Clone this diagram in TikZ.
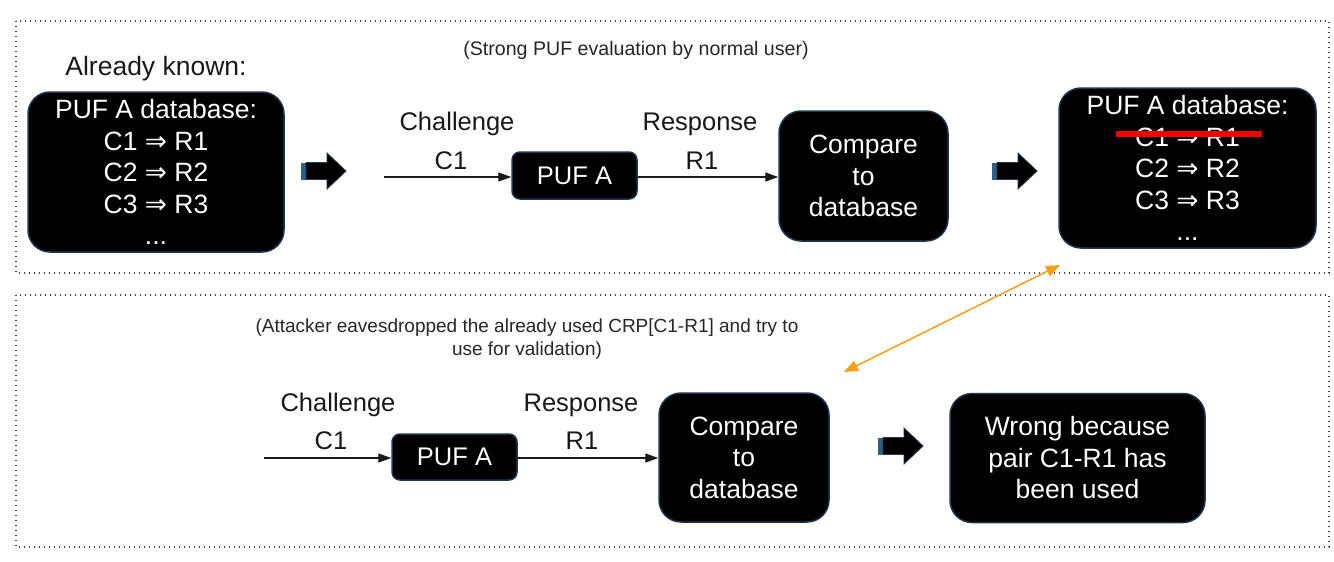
\documentclass[tikz,border=0pt]{standalone}
\usepackage{fontspec}
\setmainfont{Liberation Sans}
\newfontfamily\arrowfont{DejaVu Sans}
\usetikzlibrary{arrows.meta}
\definecolor{navy}{RGB}{31,56,80}
\definecolor{stripe}{RGB}{45,95,135}
\definecolor{orng}{RGB}{247,158,27}
\definecolor{strike}{RGB}{240,0,0}
\newcommand{\imp}{{\arrowfont ⇒}}
\tikzset{
  bigbox/.style={draw=navy, line width=1.5, fill=black, rounded corners=22,
    text=white, align=center, font=\fontsize{26.5}{31.5}\selectfont, inner sep=0},
  pufbox/.style={draw=navy, line width=1.5, fill=black, rounded corners=8,
    text=white, align=center, font=\fontsize{25.5}{30}\selectfont, inner sep=0},
  lbl/.style={font=\fontsize{25.5}{30}\selectfont, text=black!90, inner sep=0},
  note/.style={font=\fontsize{19}{23.5}\selectfont, text=black!85, align=center, inner sep=0},
  frame/.style={draw=black!75, line width=1.3, dash pattern=on 1.3 off 3.7},
  flow/.style={-{Triangle[length=13,width=9]}, line width=1.3, draw=black!90},
  fatarr/.pic={
    \fill[stripe] (0,-8.5) rectangle (6,8.5);
    \filldraw[fill=black, draw=navy, line width=0.8]
      (5,-8.5) -- (26,-8.5) -- (26,-18) -- (45,0) -- (26,18) -- (26,8.5) -- (5,8.5) -- cycle;
  }
}
\begin{document}
\begin{tikzpicture}[x=1pt,y=-1pt]
\useasboundingbox[fill=white] (0,0) rectangle (1334,562);

% frames
\draw[frame] (16,21) rectangle (1329,273);
\draw[frame] (16,295) rectangle (1329,547);

% ---------- top row ----------
\node[note, font=\fontsize{19.6}{23.5}\selectfont] (hdr1) at (636,50) {(Strong PUF evaluation by normal user)};
\node[lbl, font=\fontsize{26.5}{30}\selectfont] (known) at (156,69) {Already known:};

\node[bigbox, minimum width=256, minimum height=160] (db1) at (156,172)
  {PUF A database:\\ C1 \imp{} R1\\ C2 \imp{} R2\\ C3 \imp{} R3\\ ...};

\pic at (301,171) {fatarr};

\coordinate (cin1) at (384,177);
\node[pufbox, minimum width=125, minimum height=47] (puf1) at (574.5,175.5) {PUF A};
\node[bigbox, minimum width=169, minimum height=130] (cmp1) at (863.5,176)
  {Compare\\ to\\ database};
\draw[flow] (cin1) -- (cin1 -| puf1.west);
\draw[flow] (puf1.east |- cin1) -- (cmp1.west |- cin1);
\node[lbl] (ch1) at (457,124) {Challenge};
\node[lbl] (c1a) at (451,161) {C1};
\node[lbl] (rs1) at (700,124) {Response};
\node[lbl] (r1a) at (702,161) {R1};

\pic at (992,171) {fatarr};

\node[bigbox, minimum width=257, minimum height=160] (db2) at (1187.5,168)
  {PUF A database:\\ C1 \imp{} R1\\ C2 \imp{} R2\\ C3 \imp{} R3\\ ...};
\draw[strike, line width=6] (1116,134) -- (1262,134);

% ---------- bottom row ----------
\node[note] (hdr2) at (527,339)
  {(Attacker eavesdropped the already used CRP[C1-R1] and try to\\ use for validation)};

\coordinate (cin2) at (264,458);
\node[pufbox, minimum width=125, minimum height=46] (puf2) at (454.5,457) {PUF A};
\node[bigbox, minimum width=170, minimum height=129] (cmp2) at (744,457.5)
  {Compare\\ to\\ database};
\draw[flow] (cin2) -- (cin2 -| puf2.west);
\draw[flow] (puf2.east |- cin2) -- (cmp2.west |- cin2);
\node[lbl] (ch2) at (338,405) {Challenge};
\node[lbl] (c1b) at (331,441) {C1};
\node[lbl] (rs2) at (581,405) {Response};
\node[lbl] (r1b) at (582,441) {R1};

\pic at (878,446) {fatarr};

\node[bigbox, minimum width=255, minimum height=129] (wrong) at (1077.5,458)
  {Wrong because\\ pair C1-R1 has\\ been used};

% orange link
\coordinate (oa) at (1060,265);
\coordinate (ob) at (844,372);
\draw[orng, line width=1.5, {Triangle[length=14,width=11]}-{Triangle[length=14,width=11]}] (ob) -- (oa);
\end{tikzpicture}
\end{document}
